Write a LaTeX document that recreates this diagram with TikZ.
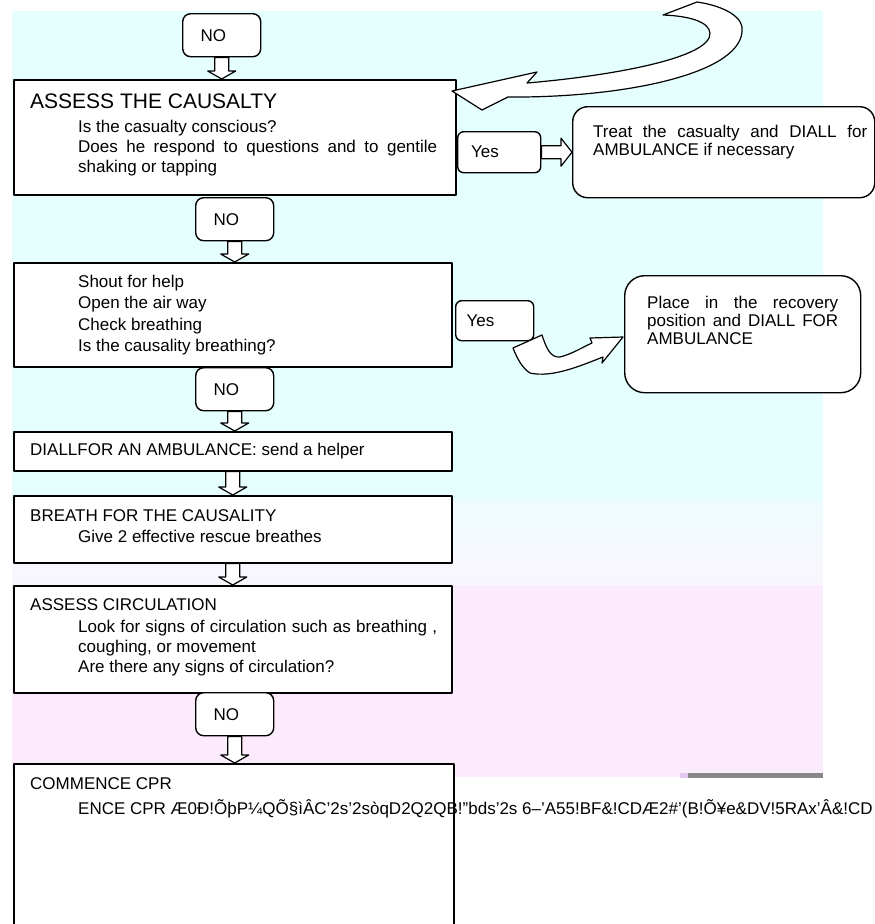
\documentclass[tikz,border=0pt]{standalone}
\usepackage{fontspec}
\setmainfont{Liberation Sans}
\usetikzlibrary{positioning,calc}
\definecolor{cyanbg}{RGB}{229,255,255}
\definecolor{pinkbg}{RGB}{252,235,252}
\definecolor{bandtop}{RGB}{238,252,254}
\definecolor{bandbot}{RGB}{249,246,253}
\definecolor{lavbar}{RGB}{226,200,240}
\definecolor{graybar}{RGB}{136,136,136}
\tolerance=10000
\hyphenpenalty=10000
\begin{document}
\begin{tikzpicture}[x=1pt,y=-1pt,line join=round,
		stepbox/.style={draw,line width=1.5pt,fill=white,anchor=north west,inner sep=0pt},
		nobox/.style={draw,line width=1.4pt,fill=white,rounded corners=8pt,anchor=north west,inner sep=0pt,minimum width=78pt,minimum height=43pt,text width=42pt,align=left,font=\fontsize{17}{20}\selectfont},
		endbox/.style={draw,line width=1.4pt,fill=white,anchor=north west,inner sep=0pt},
		txt/.style={anchor=north west,inner sep=0pt,font=\fontsize{17}{20}\selectfont},
		body/.style={txt,text width=359pt,align=justify},
		bigarrow/.style={draw,line width=1.2pt,fill=white},
		hollowdown/.style={bigarrow,to path={let \p1=(\tikztostart),\p2=(\tikztotarget) in (\x1-7pt,\y1) -- (\x1-7pt,\y2+8pt) -- (\x1-14pt,\y2+8pt) -- (\x1,\y2) -- (\x1+14pt,\y2+8pt) -- (\x1+7pt,\y2+8pt) -- (\x1+7pt,\y1) -- cycle}},
		hollowright/.style={bigarrow,to path={let \p1=(\tikztostart),\p2=(\tikztotarget) in (\x1,\y1+6.5pt) -- (\x2-11pt,\y1+6.5pt) -- (\x2-11pt,\y1+14pt) -- (\x2,\y1) -- (\x2-11pt,\y1-14pt) -- (\x2-11pt,\y1-6.5pt) -- (\x1,\y1-6.5pt) -- cycle}}]
	\useasboundingbox (0,0) rectangle (875,924);
	\fill[cyanbg] (12,11) rectangle (823,500);
	\shade[top color=bandtop,bottom color=bandbot] (12,500) rectangle (823,585);
	\fill[pinkbg] (12,585) rectangle (823,777);
	\fill[lavbar] (680,773) rectangle (688,778);
	\fill[graybar] (688,773) rectangle (823,778);
	% main column
	\node[nobox] (no0) at (182,13) {NO};
	\node[stepbox,minimum width=442pt,minimum height=115pt] (assess) at (13,79) {};
	\node[txt,font=\fontsize{21}{24}\selectfont] (assesst) at (30,93.5) {ASSESS THE CAUSALTY};
	\node[body] (assessb) at (78,120) {Is the casualty conscious?\\ Does he respond to questions and to gentile shaking or tapping};
	\node[nobox] (no1) at (195,197) {NO};
	\node[stepbox,minimum width=438pt,minimum height=104pt] (shout) at (13,262) {};
	\node[txt,align=left,font=\fontsize{17}{21.3}\selectfont] (shoutb) at (78,275) {Shout for help\\ Open the air way\\ Check breathing\\ Is the causality breathing?};
	\node[nobox] (no2) at (195,367) {NO};
	\node[stepbox,minimum width=438pt,minimum height=39pt] (diall) at (13,431) {};
	\node[txt] (diallt) at (30,443) {DIALLFOR AN AMBULANCE: send a helper};
	\node[stepbox,minimum width=438pt,minimum height=67pt] (breath) at (13,495) {};
	\node[txt] (breatht) at (30,509) {BREATH FOR THE CAUSALITY};
	\node[txt] (breathb) at (78,530) {Give 2 effective rescue breathes};
	\node[stepbox,minimum width=438pt,minimum height=107pt] (circ) at (13,585) {};
	\node[txt] (circt) at (30,598) {ASSESS CIRCULATION};
	\node[body] (circb) at (78,620) {Look for signs of circulation such as breathing , coughing, or movement\\ Are there any signs of circulation?};
	\node[nobox] (no3) at (195,692) {NO};
	\node[stepbox,minimum width=440pt,minimum height=200pt] (cpr) at (13,763) {};
	\node[txt] (cprt) at (30,777) {COMMENCE CPR};
	\node[txt] (cprb) at (78,799) {ENCE CPR Æ0Ð!ÕþP¼QÕ§ìÂC'2s'2sòqD2Q2QB!"bds'2s 6–'A55!BF\&!CDÆ2\#'(B!Õ¥e\&DV!5RAx'Â\&!CD};
	% yes branches
	\node[nobox,minimum width=83pt,minimum height=41pt,rounded corners=6pt,text width=56pt] (yes1) at (457,131) {Yes};
	\node[endbox,rounded corners=15pt,minimum width=302pt,minimum height=91pt] (treat) at (572,106) {};
	\node[txt,text width=274pt,align=justify,font=\fontsize{17}{18}\selectfont] (treatt) at (593,125) {Treat the casualty and DIALL for AMBULANCE if necessary};
	\node[nobox,minimum width=78pt,minimum height=40pt,rounded corners=6pt,text width=56pt] (yes2) at (455,300) {Yes};
	\node[endbox,rounded corners=20pt,minimum width=236pt,minimum height=117pt] (place) at (624,275) {};
	\node[txt,text width=191pt,align=justify,font=\fontsize{17}{18}\selectfont] (placet) at (647,296) {Place in the recovery position and DIALL FOR AMBULANCE};
	% arrows
	\draw[hollowdown] (no0.south) to (assess.north);
	\draw[hollowdown] (no1.south) to (shout.north);
	\draw[hollowdown] (no2.south) to (diall.north);
	\draw[hollowdown] (diall.south) to (breath.north);
	\draw[hollowdown] (breath.south) to (circ.north);
	\draw[hollowdown] (no3.south) to (cpr.north);
	\draw[hollowright] (yes1.east) to (treat.west);
	\draw[bigarrow] (452,91) -- (537,72) -- (527,83) .. controls (610,76) and (712,58) .. (710,33) .. controls (709,22) and (690,16) .. (663,15) -- (697,2) .. controls (725,6) and (745,18) .. (742,32) .. controls (738,75) and (620,98) .. (508,97) -- (482,110) -- cycle;
	\draw[bigarrow] (513,348) -- (542,335) .. controls (546,347) and (550,358) .. (560,357) .. controls (572,354) and (583,347) .. (592,343) -- (590,338) -- (623,337) -- (602,363) -- (603,357) .. controls (580,366) and (552,378) .. (530,373) .. controls (522,368) and (517,358) .. (513,348) -- cycle;
\end{tikzpicture}
\end{document}
